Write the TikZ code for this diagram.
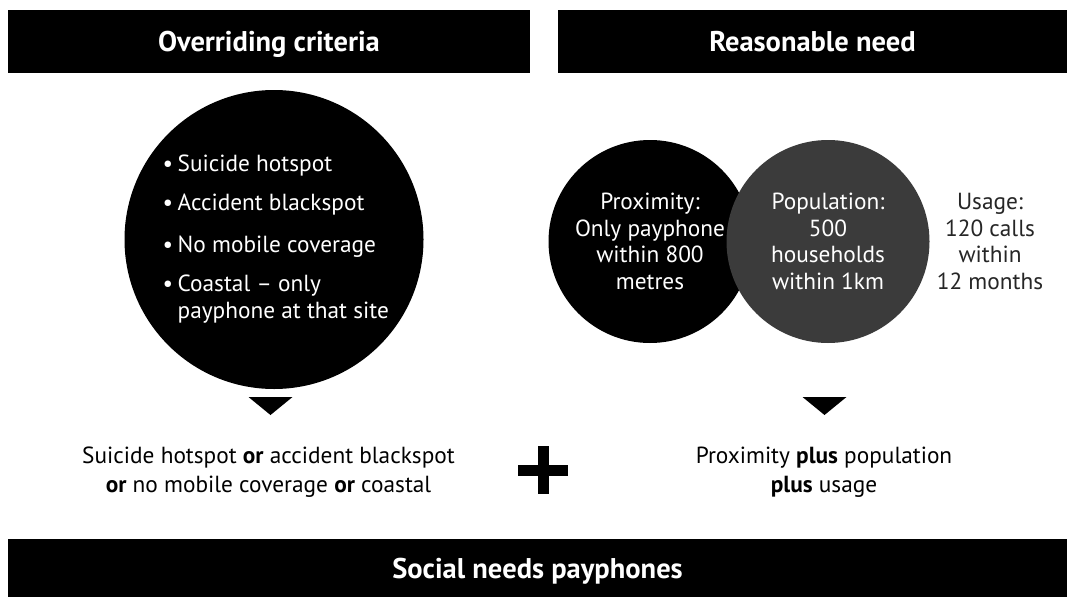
\documentclass[tikz,border=0pt]{standalone}
\usepackage{fontspec}
\setmainfont{PT Sans}
\begin{document}
\begin{tikzpicture}[x=1pt,y=-1pt,
  hbar/.style={fill=black, inner sep=0pt, minimum height=63pt, text=white,
    text height=20pt, text depth=0pt,
    font=\fontsize{28.5}{30}\selectfont\bfseries},
  disc/.style={circle, fill=black, inner sep=0pt, minimum size=203pt},
  wtext/.style={text=white, font=\fontsize{23.3}{26.5}\selectfont, align=center, inner sep=0pt},
  btext/.style={text=black, font=\fontsize{23.3}{29}\selectfont, align=center, inner sep=0pt},
  utext/.style={text=black!85, font=\fontsize{23.3}{26.5}\selectfont, align=center, inner sep=0pt},
  bullet/.style={text=white, font=\fontsize{23.3}{26.5}\selectfont, inner sep=0pt},
  tri/.style={fill=black},
]
\useasboundingbox (0,0) rectangle (1067,597);
\fill[white] (0,0) rectangle (1067,597);

% header bars
\node[hbar, minimum width=522pt] (lbar) at (269,41.5) {Overriding criteria};
\node[hbar, minimum width=509pt] (rbar) at (812.5,41.5) {Reasonable need};

% left big circle
\node[disc, minimum size=299pt] (big) at (274,239.5) {};
\foreach \y/\t [count=\i] in {171/Suicide hotspot, 210.5/Accident blackspot, 252/No mobile coverage, 291/{Coastal -- only}} {
  \node[bullet, anchor=base] (bu\i) at (168,\y) {•};
  \node[bullet, anchor=base west] (it\i) at (177.5,\y) {\t};
}
\node[bullet, anchor=base west] (it5) at (177.5,318) {payphone at that site};

% right circles
\node[disc] (prox) at (650,241.5) {};
\node[disc, fill=black!77] (pop) at (828,241.5) {};
\node[wtext] (proxt) at (prox.center) {Proximity:\\Only payphone\\within 800\\metres};
\node[wtext] (popt) at (pop.center) {Population:\\500\\households\\within 1km};
\node[utext] (usage) at (990,241.5) {Usage:\\120 calls\\within\\12 months};

% triangles
\coordinate (t1) at (270.5,397);
\coordinate (t2) at (824.5,397);
\fill[tri] (t1) ++(-22,0) -- ++(44,0) -- ++(-22,18) -- cycle;
\fill[tri] (t2) ++(-22,0) -- ++(44,0) -- ++(-22,18) -- cycle;

% bottom texts
\node[btext] (ltext) at (268.5,472) {Suicide hotspot \textbf{or} accident blackspot\\\textbf{or} no mobile coverage \textbf{or} coastal};
\node[btext] (rtext) at (824,472) {Proximity \textbf{plus} population\\\textbf{plus} usage};

% plus sign
\coordinate (plus) at (543,470);
\fill (plus) ++(-25,-5.5) rectangle ++(50,11);
\fill (plus) ++(-5.5,-24) rectangle ++(11,48);

% bottom bar
\node[hbar, minimum width=1059pt, minimum height=58pt] (bbar) at (537.5,568) {Social needs payphones};
\end{tikzpicture}
\end{document}
